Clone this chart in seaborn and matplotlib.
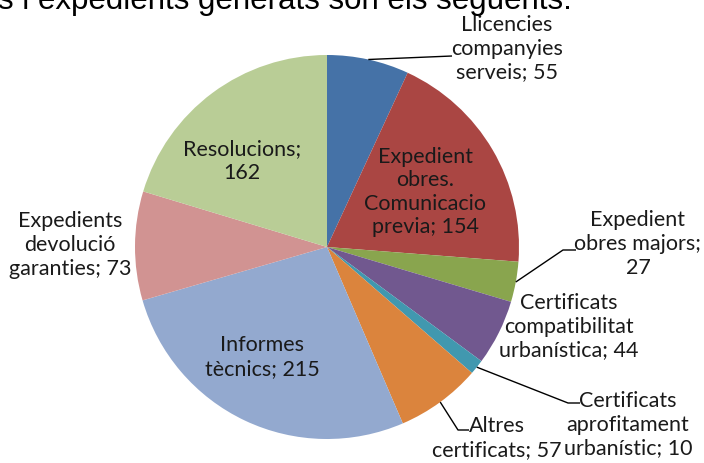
import numpy as np
import matplotlib
matplotlib.use("Agg")
import matplotlib.pyplot as plt
import seaborn as sns

sns.set_theme(style="white")
plt.rcParams['font.family'] = ['Lato', 'DejaVu Sans']

# ---- data ----
categories = [
    "Llicencies\ncompanyies\nserveis",
    "Expedient\nobres.\nComunicacio\nprevia",
    "Expedient\nobres majors;\n",
    "Certificats\ncompatibilitat\nurbanística",
    "Certificats\naprofitament\nurbanístic",
    "Altres\ncertificats",
    "Informes\ntècnics",
    "Expedients\ndevolució\ngaranties",
    "Resolucions;\n",
]
values = [55, 154, 27, 44, 10, 57, 215, 73, 162]
colors = ["#4572A7", "#AA4643", "#89A54E", "#71588F", "#4198AF",
          "#DB843D", "#93A9CF", "#D19392", "#B9CD96"]
title_text = "ls i expedients generats son els següents:"

# ---- layout (pixels of the 704x463 figure) ----
W, H = 704, 463
CX, CY, R = 327, 247, 192
label_pos = [(507, 49), (425, 192), (638, 244), (569, 327), (628, 425),
             (497, 438), (262, 357), (70, 245), (242, 161)]
leaders = [
    [(452, 56)],
    None,
    [(563, 250), (576, 250)],
    None,
    [(568, 403), (580, 403)],
    [(458, 430), (469, 430)],
    None,
    None,
    None,
]


def px(x, y):
    return ((x - CX) / R, (CY - y) / R)


fig = plt.figure(figsize=(W / 100, H / 100), dpi=100)
ax = fig.add_axes([0, 0, 1, 1])
wedges, _ = ax.pie(values, colors=colors, startangle=90, counterclock=False,
                   radius=1.0, center=(0, 0),
                   wedgeprops=dict(linewidth=0))
ax.set_aspect('auto')
ax.set_xlim(-CX / R, (W - CX) / R)
ax.set_ylim((CY - H) / R, CY / R)
ax.axis('off')

tc = "#1a1a1a"
for i, (w, cat, v) in enumerate(zip(wedges, categories, values)):
    if cat.endswith(";\n"):
        txt = f"{cat}{v}"
    else:
        txt = f"{cat}; {v}"
    tx, ty = px(*label_pos[i])
    ax.text(tx, ty, txt, ha='center', va='center', fontsize=15.5,
            color=tc, linespacing=1.22)
    if leaders[i] is not None:
        ang = np.deg2rad((w.theta1 + w.theta2) / 2)
        pts = [(np.cos(ang), np.sin(ang))] + [px(*p) for p in leaders[i]]
        xs, ys = zip(*pts)
        ax.plot(xs, ys, color="#000000", lw=1.0, solid_capstyle='butt')

fig.text(-9 / W, 1 - 9 / H, title_text, ha='left', va='baseline',
         fontsize=22.5, family=['Liberation Sans', 'DejaVu Sans'], color='black')

fig.savefig("out.png", dpi=100)
